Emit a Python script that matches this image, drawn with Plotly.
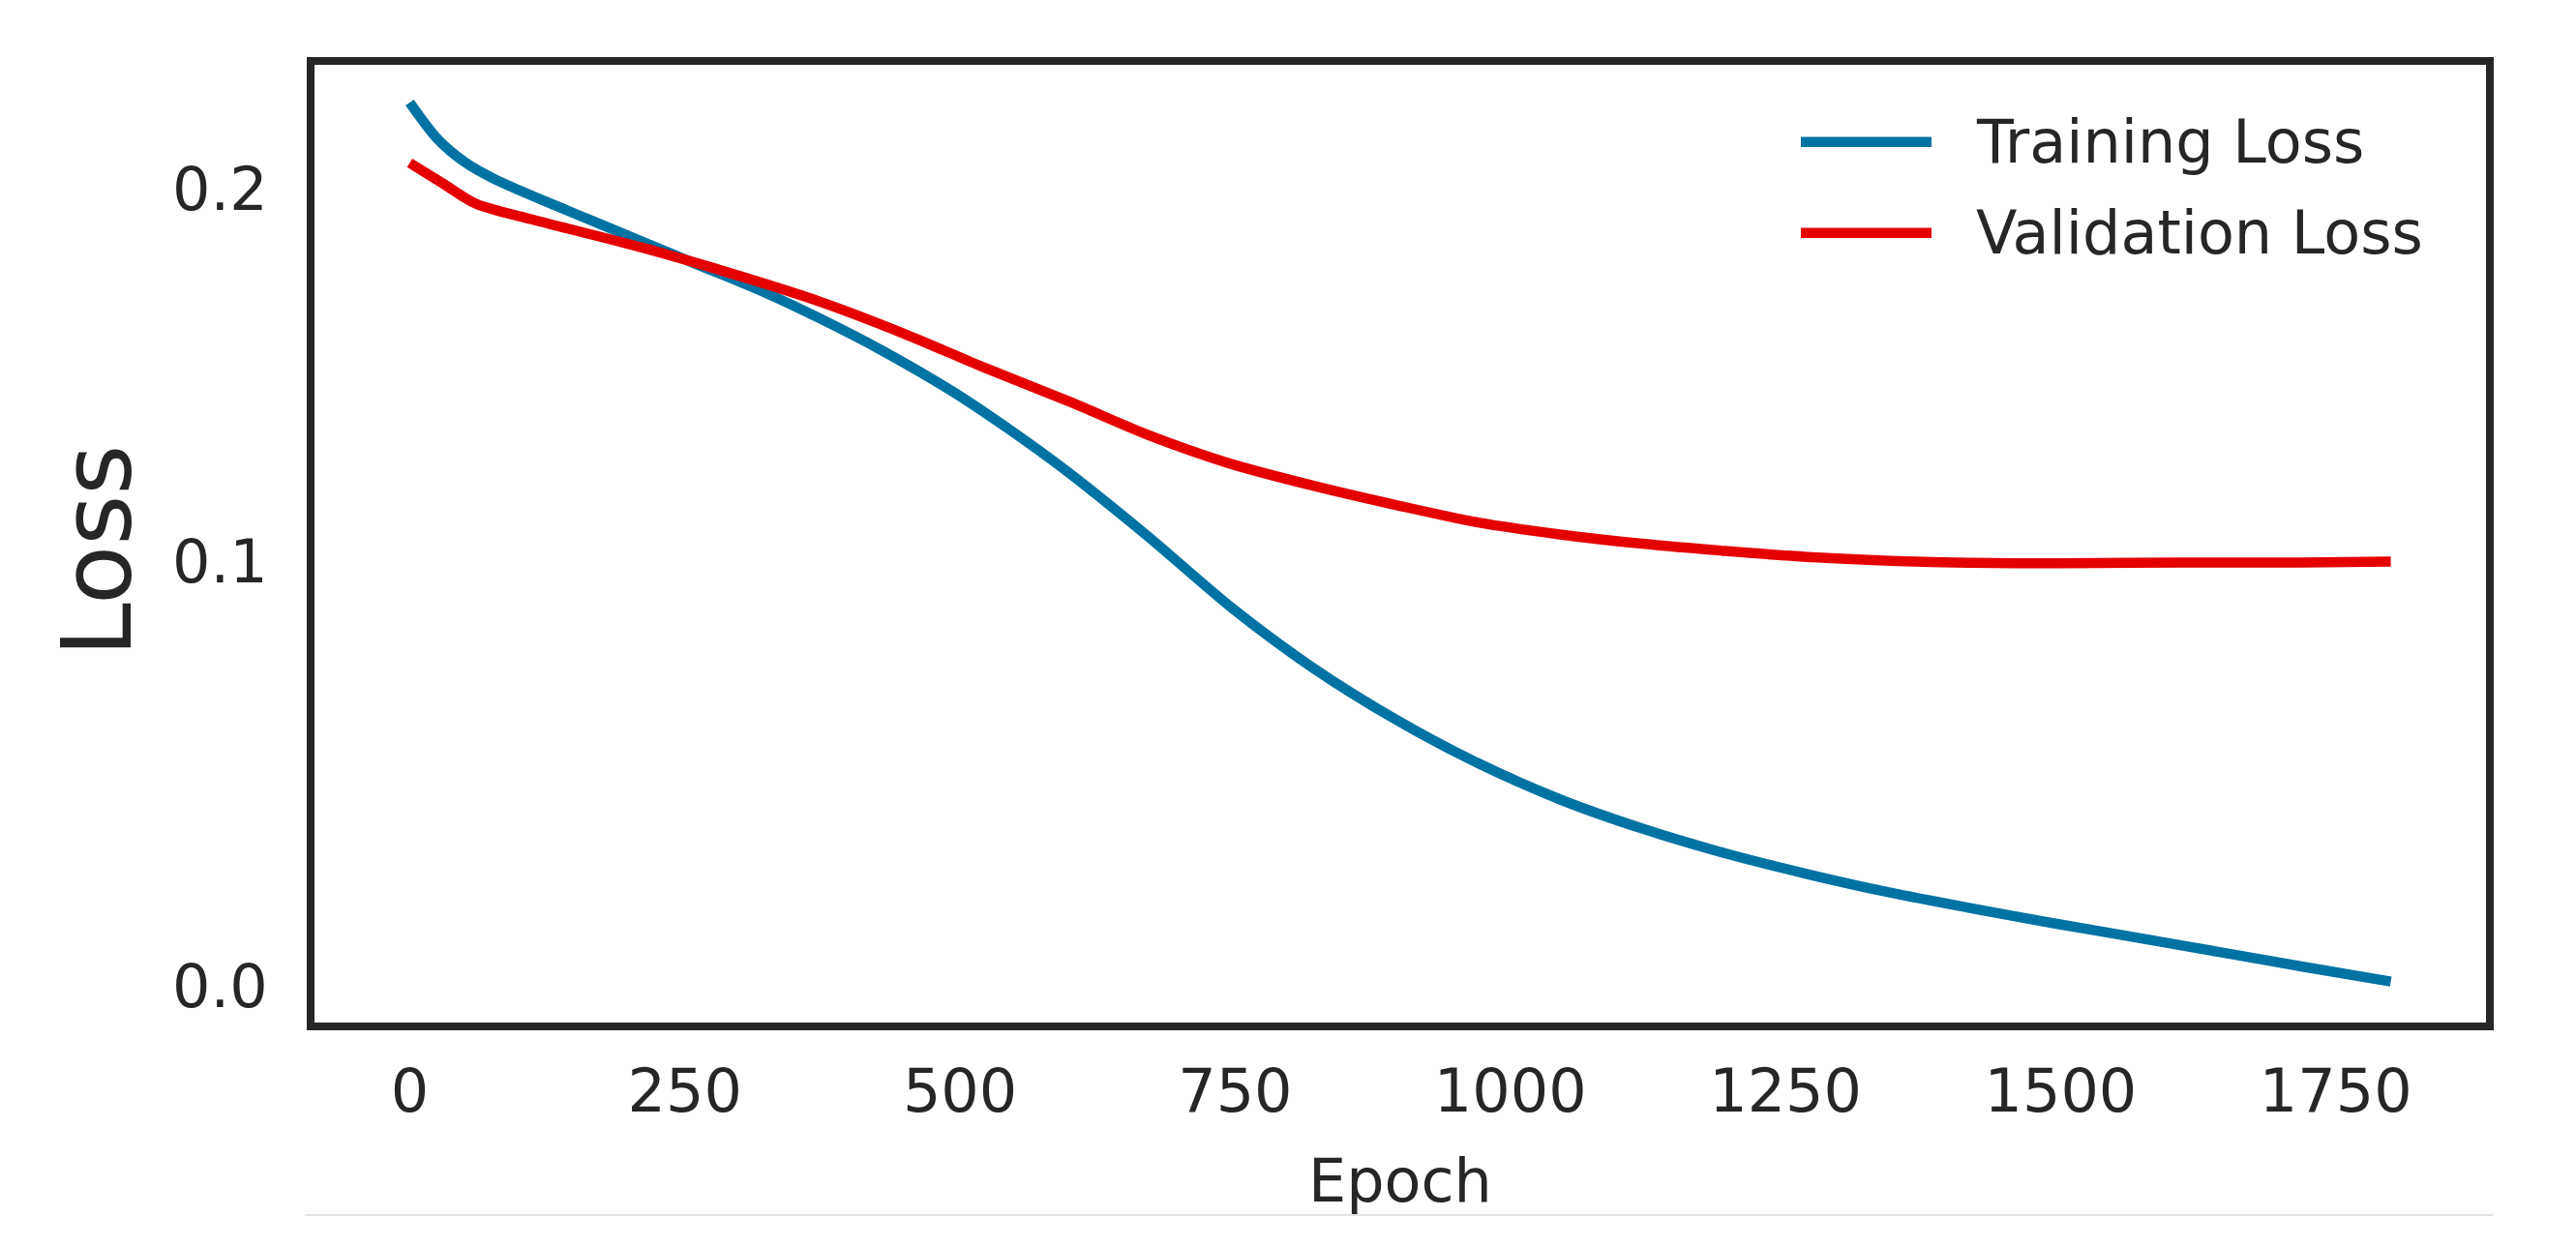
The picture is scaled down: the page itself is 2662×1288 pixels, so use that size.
import plotly.graph_objects as go

# ---- data ----
train_epochs = [0, 25, 50, 77, 144, 212, 260, 320, 374, 430, 493, 545, 598, 670, 747,
                820, 896, 970, 1046, 1120, 1195, 1270, 1344, 1420, 1494, 1570, 1643, 1720, 1800]
train_loss = [0.2080, 0.1995, 0.1940, 0.1900, 0.1825, 0.1752, 0.1700, 0.1636, 0.1570, 0.1495,
              0.1400, 0.1310, 0.1210, 0.1060, 0.0890, 0.0750, 0.0627, 0.0525, 0.0438, 0.0370,
              0.0312, 0.0263, 0.0220, 0.0182, 0.0147, 0.0113, 0.0080, 0.0045, 0.0010]

val_epochs = [0, 30, 60, 111, 212, 279, 374, 450, 523, 600, 672, 745, 822, 900, 971,
              1045, 1120, 1195, 1270, 1345, 1419, 1500, 1568, 1650, 1718, 1800]
val_loss = [0.1938, 0.1890, 0.1842, 0.1805, 0.1738, 0.1688, 0.1610, 0.1535, 0.1455, 0.1375,
            0.1296, 0.1230, 0.1177, 0.1130, 0.1091, 0.1063, 0.1041, 0.1024, 0.1010, 0.1001,
            0.0996, 0.0995, 0.0996, 0.0997, 0.0997, 0.0999]

x_tick_vals = [0, 250, 500, 750, 1000, 1250, 1500, 1750]
y_tick_vals = [0.0, 0.1, 0.1877]
y_tick_text = ["0.0", "0.1", "0.2"]

series_names = ["Training Loss", "Validation Loss"]
series_colors = ["#0173A3", "#E50000"]

FONT = "DejaVu Sans"
TXT = "#262626"

# page coordinates of the reference; the html body has an 8px margin
OFF = 8
PAGE_W, PAGE_H = 2662, 1288
L, R, T, B = 325, 93, 67, 231          # plot area in page pixels
PW, PH = PAGE_W - L - R, PAGE_H - T - B


def px_x(p):
    return (p - L) / PW


def px_y(p):
    return (PAGE_H - B - p) / PH


fig = go.Figure()
fig.add_trace(go.Scatter(x=train_epochs, y=train_loss, mode="lines", name=series_names[0],
                         line=dict(color=series_colors[0], width=10.5, shape="spline", smoothing=0.8),
                         showlegend=False))
fig.add_trace(go.Scatter(x=val_epochs, y=val_loss, mode="lines", name=series_names[1],
                         line=dict(color=series_colors[1], width=10.5, shape="spline", smoothing=0.8),
                         showlegend=False))

shapes = []
annotations = []
# manual legend (long line samples like the reference)
legend_y = [146.7, 240.7]
for name, color, ly in zip(series_names, series_colors, legend_y):
    shapes.append(dict(type="line", xref="paper", yref="paper",
                       x0=px_x(1861), x1=px_x(1996), y0=px_y(ly), y1=px_y(ly),
                       line=dict(color=color, width=10.5)))
    annotations.append(dict(text=name, xref="paper", yref="paper", x=px_x(2040), y=px_y(ly),
                            xanchor="left", yanchor="middle", showarrow=False,
                            font=dict(family=FONT, size=62, color=TXT)))

# faint line at the bottom of the figure
shapes.append(dict(type="line", xref="paper", yref="paper",
                   x0=px_x(315), x1=px_x(2576), y0=px_y(1256), y1=px_y(1256),
                   line=dict(color="#e3e3e3", width=2)))

annotations.append(dict(text="Epoch", xref="paper", yref="paper", x=px_x(1447), y=px_y(1220),
                        xanchor="center", yanchor="middle", showarrow=False,
                        font=dict(family=FONT, size=62, color=TXT)))
annotations.append(dict(text="Loss", xref="paper", yref="paper", x=px_x(100), y=px_y(570),
                        xanchor="center", yanchor="middle", showarrow=False, textangle=-90,
                        font=dict(family=FONT, size=100, color=TXT)))

fig.update_layout(
    width=PAGE_W - OFF, height=PAGE_H - OFF,
    margin=dict(l=L - OFF, r=R, t=T - OFF, b=B, pad=0),
    paper_bgcolor="white", plot_bgcolor="white",
    font=dict(family=FONT, size=62, color=TXT),
    shapes=shapes, annotations=annotations,
    showlegend=False,
)
fig.update_xaxes(range=[-86.5, 1886.5], tickvals=x_tick_vals, showgrid=False, zeroline=False,
                 showline=True, mirror=True, linecolor=TXT, linewidth=8,
                 ticks="", ticklabelstandoff=10,
                 tickfont=dict(family=FONT, size=62, color=TXT))
fig.update_yaxes(range=[-0.00866, 0.2169], tickvals=y_tick_vals, ticktext=y_tick_text,
                 showgrid=False, zeroline=False,
                 showline=True, mirror=True, linecolor=TXT, linewidth=8,
                 ticks="", ticklabelstandoff=28,
                 tickfont=dict(family=FONT, size=62, color=TXT))

fig.write_html("out.html")
